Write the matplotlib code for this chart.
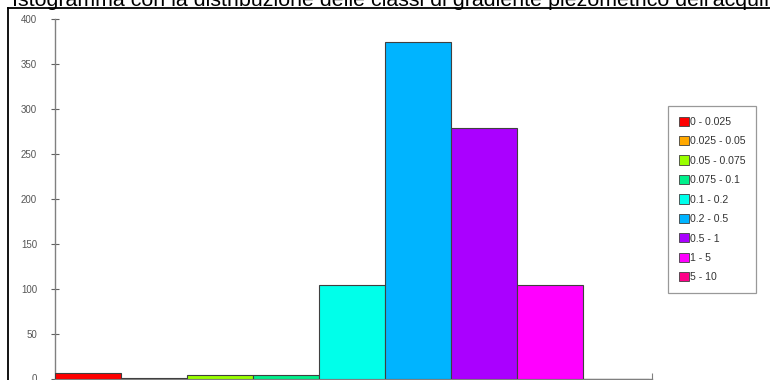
import matplotlib
matplotlib.use("Agg")
import matplotlib.pyplot as plt
from matplotlib.lines import Line2D

categories = ["0 - 0.025", "0.025 - 0.05", "0.05 - 0.075", "0.075 - 0.1",
              "0.1 - 0.2", "0.2 - 0.5", "0.5 - 1", "1 - 5", "5 - 10"]
counts = [6, 1, 4, 4, 104, 374, 279, 104, 0]
colors = ["#FF0000", "#FFA800", "#99FF00", "#00F08C", "#00FFEA",
          "#00B4FF", "#AA00FF", "#FF00FF", "#FF0088"]
yticks = [0, 50, 100, 150, 200, 250, 300, 350, 400]
title = "Istogramma con la distribuzione delle classi di gradiente piezometrico dell'acquifero"

plt.rcParams['font.family'] = ['Liberation Sans', 'DejaVu Sans']

W, H = 770, 380
fig = plt.figure(figsize=(W / 100, H / 100), dpi=100)
fig.patch.set_facecolor("white")

# outer frame (left and top lines)
fig.add_artist(Line2D([7.5 / W, 7.5 / W], [0, 1 - 8 / H], color="black", lw=1.3,
                      transform=fig.transFigure))
fig.add_artist(Line2D([7.5 / W, 1], [1 - 8 / H, 1 - 8 / H], color="black", lw=1.3,
                      transform=fig.transFigure))

# cut-off title
fig.text(12 / W, 1 - 6 / H, title, fontsize=15.4, va="baseline", ha="left",
         color="black")

left, right = 55 / W, 652 / W
bottom, top = 1 - 378.5 / H, 1 - 19 / H
ax = fig.add_axes([left, bottom, right - left, top - bottom])
ax.set_facecolor("white")
ax.patch.set_alpha(0)

x = list(range(len(categories)))
bars = ax.bar(x, counts, width=1.0, color=colors, edgecolor="#404040",
              linewidth=0.8, zorder=3)

ax.set_xlim(-0.5, 8.55)
ax.set_ylim(0, 400)
ax.set_yticks(yticks)
ax.set_yticklabels([str(v) for v in yticks])
ax.set_xticks([8.55])
ax.set_xticklabels([])

for s in ["top", "right"]:
    ax.spines[s].set_visible(False)
for s in ["left", "bottom"]:
    ax.spines[s].set_color("#808080")
    ax.spines[s].set_linewidth(1.0)

ax.tick_params(axis="y", direction="inout", length=6, width=0.8, color="#606060",
               labelsize=7, labelcolor="#555555", pad=10)
ax.tick_params(axis="x", direction="in", length=4, width=0.8, color="#808080")

handles = [plt.Rectangle((0, 0), 1, 1, facecolor=c, edgecolor="#404040", lw=0.6)
           for c in colors]
leg = fig.legend(handles, categories, loc="upper left",
                 bbox_to_anchor=(668 / W, 1 - 106 / H),
                 frameon=True, fancybox=False, fontsize=7.6,
                 handlelength=0.95, handleheight=0.95, handletextpad=0.15,
                 labelspacing=0.88, borderpad=1.0, borderaxespad=0)
leg.get_frame().set_edgecolor("#808080")
leg.get_frame().set_linewidth(0.9)
for t in leg.get_texts():
    t.set_color("#333333")

fig.savefig("out.png", dpi=100, facecolor="white")
